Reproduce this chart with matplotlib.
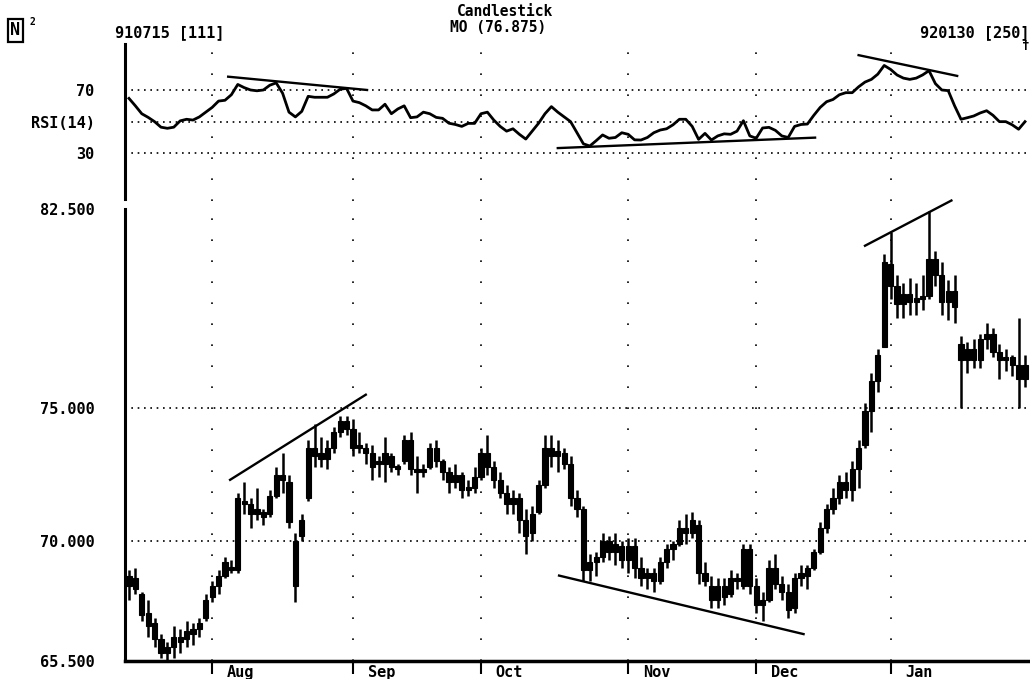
import numpy as np
import matplotlib.pyplot as plt
from matplotlib.transforms import blended_transform_factory

plt.rcParams['font.family'] = 'DejaVu Sans Mono'
plt.rcParams['font.weight'] = 'bold'

# --- daily bars, 910715 .. 920130 (bar index 0 = Jul 15) ---
opens = [68.3, 68.6, 68.0, 67.3, 66.9, 66.3, 65.8, 66.0, 66.4, 66.3, 66.5, 66.7, 67.1,
         67.9, 68.3, 68.7, 69.0, 68.9, 71.5, 71.4, 71.0, 71.1, 71.0, 71.7, 72.5, 72.2, 70.0, 70.2, 71.6, 73.5, 73.3, 73.1, 73.5, 74.1, 74.5,
         74.2, 73.6, 73.5, 73.3, 72.9, 72.9, 73.2, 72.8, 73.0, 73.8, 72.7, 72.6, 72.8, 73.5, 73.0, 72.6, 72.2, 72.5, 71.9, 72.0,
         72.4, 73.3, 72.8, 72.3, 71.8, 71.4, 71.6, 70.8, 70.3, 71.1, 72.1, 73.5, 73.2, 73.3, 72.9, 71.6, 71.2, 68.9, 69.2, 69.4, 70.0, 69.6, 69.8,
         69.3, 69.8, 69.0, 68.6, 68.8, 68.5, 69.2, 69.7, 69.9, 70.5, 70.3, 70.6, 68.8, 68.3, 67.8, 68.3, 68.0, 68.6, 68.3, 69.7,
         68.3, 67.6, 67.8, 69.0, 68.4, 68.1, 67.5, 68.6, 68.7, 69.0, 69.6, 70.5, 71.2, 71.6, 72.2, 71.9, 72.7, 73.6, 74.9, 76.0, 77.3,
         80.4, 79.6, 78.9, 79.3, 79.0, 79.1, 79.2, 80.6, 80.0, 79.0, 79.4, 77.4, 76.8, 77.2, 76.8, 77.6, 77.8, 77.1, 76.8, 76.9, 76.6, 76.1]
highs = [68.9, 69.0, 68.1, 67.8, 67.1, 66.5, 66.2, 66.8, 66.7, 67.0, 66.9, 67.1, 68.0,
         68.5, 68.9, 69.4, 69.3, 71.8, 72.2, 71.6, 72.0, 71.2, 71.9, 72.8, 73.3, 72.5, 70.3, 71.0, 73.8, 74.4, 73.9, 73.8, 74.3, 74.7, 74.7,
         74.6, 74.1, 73.7, 73.6, 73.2, 73.9, 73.3, 72.9, 74.0, 74.1, 73.2, 72.9, 73.7, 73.8, 73.1, 72.8, 72.9, 72.6, 72.3, 72.8,
         73.5, 74.0, 73.0, 72.6, 72.1, 71.9, 71.8, 71.2, 71.3, 72.3, 74.0, 74.0, 73.8, 73.5, 73.2, 71.9, 71.3, 69.5, 69.6, 70.3, 70.2, 70.3, 70.0,
         70.1, 70.1, 69.4, 69.0, 69.0, 69.4, 69.9, 70.0, 70.8, 71.0, 71.1, 70.8, 69.2, 68.7, 68.6, 68.6, 68.9, 68.8, 69.9, 69.9,
         68.6, 68.1, 69.3, 69.5, 68.7, 68.4, 68.8, 69.1, 69.1, 69.7, 70.7, 71.4, 72.0, 72.5, 72.6, 73.0, 73.8, 75.2, 76.3, 77.2, 80.8,
         81.6, 80.0, 79.7, 79.9, 79.7, 80.0, 82.4, 80.9, 80.5, 79.8, 80.0, 77.7, 77.5, 77.6, 77.8, 78.2, 78.0, 77.4, 77.2, 77.0, 78.4, 77.0]
lows = [67.8, 68.0, 67.0, 66.4, 66.0, 65.6, 65.5, 65.6, 65.8, 66.0, 66.1, 66.4, 67.0,
        67.7, 68.0, 68.6, 68.8, 68.8, 71.0, 70.5, 70.8, 70.6, 70.9, 71.6, 71.8, 70.5, 67.7, 70.0, 71.5, 72.8, 72.8, 72.7, 73.3, 73.9, 74.0,
        73.2, 73.3, 72.9, 72.3, 72.4, 72.2, 72.6, 72.5, 72.9, 72.5, 71.8, 72.4, 72.7, 72.8, 72.3, 71.8, 72.0, 71.6, 71.7, 71.8,
        72.3, 72.5, 72.0, 71.6, 71.0, 71.0, 70.3, 69.5, 70.0, 71.0, 72.0, 72.8, 72.6, 72.7, 71.3, 70.9, 68.5, 68.5, 68.7, 69.2, 69.3, 69.1, 69.0,
        68.8, 68.6, 68.3, 68.2, 68.1, 68.4, 69.0, 69.3, 69.8, 69.9, 70.1, 68.4, 68.3, 67.5, 67.5, 67.6, 67.9, 68.2, 68.2, 68.0,
        67.3, 67.0, 67.7, 68.2, 67.8, 67.1, 67.3, 68.3, 68.2, 68.9, 69.5, 70.3, 71.0, 71.4, 71.6, 71.5, 72.0, 73.5, 74.1, 75.6, 77.3,
        79.1, 78.4, 78.4, 78.5, 78.5, 78.7, 79.1, 79.6, 78.5, 78.3, 78.2, 75.0, 76.3, 76.5, 76.5, 77.2, 76.9, 76.1, 76.4, 76.2, 75.0, 75.8]
closes = [68.7, 68.2, 67.2, 66.8, 66.3, 65.8, 66.0, 66.4, 66.2, 66.6, 66.7, 66.9, 67.8,
          68.3, 68.7, 69.2, 68.9, 71.6, 71.4, 71.0, 71.2, 70.9, 71.7, 72.5, 72.3, 70.7, 68.3, 70.8, 73.5, 73.2, 73.1, 73.5, 74.1, 74.5, 74.2,
          73.5, 73.5, 73.3, 72.8, 72.9, 73.3, 72.8, 72.7, 73.8, 72.7, 72.6, 72.7, 73.5, 73.0, 72.6, 72.2, 72.5, 71.9, 72.0, 72.4,
          73.3, 72.8, 72.3, 71.8, 71.4, 71.6, 70.8, 70.2, 71.0, 72.1, 73.5, 73.2, 73.4, 72.9, 71.6, 71.2, 68.9, 69.2, 69.4, 70.0, 69.6, 69.9, 69.3,
          69.8, 69.0, 68.6, 68.8, 68.5, 69.2, 69.7, 69.9, 70.5, 70.3, 70.8, 68.8, 68.5, 67.8, 68.3, 67.9, 68.6, 68.5, 69.7, 68.3,
          67.6, 67.8, 69.0, 68.4, 68.1, 67.4, 68.6, 68.8, 69.0, 69.6, 70.5, 71.2, 71.6, 72.2, 71.9, 72.7, 73.5, 74.9, 76.0, 77.0, 80.5,
          79.6, 78.9, 79.3, 79.0, 79.1, 79.2, 80.6, 80.0, 79.0, 79.4, 78.8, 76.8, 77.2, 76.8, 77.6, 77.8, 77.1, 76.8, 76.9, 76.6, 76.1, 76.6]

# RSI(14), one value per bar
rsi = [64.7, 60.0, 55.0, 52.7, 50.0, 46.5, 45.8, 46.5, 50.5, 51.5, 51.0, 53.0, 56.0,
       59.0, 63.0, 63.5, 67.0, 73.5, 71.5, 70.0, 69.5, 70.0, 73.0, 74.5, 68.0, 56.0, 53.0, 56.5, 66.0, 65.4, 65.4, 65.4, 67.5, 70.5, 71.0,
       63.0, 62.0, 60.0, 57.4, 57.4, 61.0, 55.0, 58.0, 60.0, 52.5, 53.0, 56.0, 55.0, 52.7, 52.1, 49.0, 48.2, 47.0, 48.9, 48.9,
       55.0, 56.0, 51.0, 47.0, 44.0, 45.5, 42.0, 39.0, 44.0, 49.0, 55.0, 59.5, 56.0, 53.0, 50.0, 43.0, 36.0, 34.6, 38.0, 41.6, 39.5, 40.0, 43.0,
       42.0, 38.5, 38.4, 40.0, 43.0, 44.7, 45.5, 48.0, 51.5, 51.5, 47.0, 38.8, 42.6, 38.4, 41.0, 42.3, 42.0, 44.0, 50.6, 41.0,
       39.5, 46.0, 46.4, 44.5, 41.0, 40.0, 47.0, 48.2, 48.5, 54.0, 59.0, 62.6, 64.0, 67.0, 68.3, 68.3, 72.0, 75.0, 76.7, 80.0, 85.5,
       83.0, 79.5, 77.5, 76.7, 77.5, 79.5, 82.2, 74.0, 70.0, 69.6, 60.0, 51.5, 52.5, 53.6, 55.5, 56.9, 54.0, 50.0, 50.0, 48.0, 45.2, 50.0]

month_names = ['Aug', 'Sep', 'Oct', 'Nov', 'Dec', 'Jan']
month_starts = [13, 35, 55, 78, 98, 119]

price_ticks = [82.5, 75.0, 70.0, 65.5]
price_labels = ['82.500', '75.000', '70.000', '65.500']
price_grid = [75.0, 70.0]
rsi_ticks = [70, 50, 30]
rsi_labels = ['70', 'RSI(14)', '30']

# hand drawn trend lines: (bar, value) -> (bar, value)
rsi_trends = [((15.5, 78.4), (37.2, 70.0)),
              ((67.0, 33.3), (107.2, 39.9)),
              ((114.0, 92.0), (129.4, 78.9))]
price_trends = [((15.8, 72.3), (37.0, 75.5)),
                ((67.2, 68.7), (105.4, 66.5)),
                ((115.0, 81.1), (128.5, 82.8))]

W, H = 1030, 679
fig = plt.figure(figsize=(W / 100, H / 100), dpi=100)
x0 = 125 / W
ax_rsi = fig.add_axes([x0, 1 - 200.8 / H, 1 - x0, (200.8 - 42.5) / H])
ax = fig.add_axes([x0, 1 - 660.7 / H, 1 - x0, (660.7 - 208.5) / H])

xlim = (-0.62, 140.78)
vdots = (0, (1, 11.6))
hdots = (0, (1, 2.8))

# --- RSI panel ---
idx = np.arange(len(rsi))
ax_rsi.plot(idx, rsi, color='black', lw=2.0)
for (a, b) in rsi_trends:
    ax_rsi.plot([a[0], b[0]], [a[1], b[1]], color='black', lw=1.7, clip_on=False)
for v in rsi_ticks:
    ax_rsi.axhline(v, color='black', lw=1.2, ls=hdots)
for m in month_starts:
    ax_rsi.axvline(m, color='black', lw=1.2, ls=vdots)
ax_rsi.set_xlim(*xlim)
ax_rsi.set_ylim(0, 100)
ax_rsi.set_yticks(rsi_ticks, rsi_labels)
ax_rsi.set_xticks([])
ax_rsi.tick_params(axis='y', length=0, pad=22, labelsize=11)
for s in ['top', 'right', 'bottom']:
    ax_rsi.spines[s].set_visible(False)
ax_rsi.spines['left'].set_linewidth(2.2)
ax_rsi.spines['left'].set_bounds(1, 99)

# --- candlestick panel ---
x = np.arange(len(closes))
o = np.array(opens)
c = np.array(closes)
ax.vlines(x, lows, highs, color='black', lw=1.8)
body_lo = np.minimum(o, c)
body_h = np.maximum(np.abs(c - o), 0.12)
ax.bar(x, body_h, bottom=body_lo, width=0.8, color='black', edgecolor='black', lw=0.8)
for (a, b) in price_trends:
    ax.plot([a[0], b[0]], [a[1], b[1]], color='black', lw=1.7, clip_on=False)
for v in price_grid:
    ax.axhline(v, color='black', lw=1.2, ls=hdots)
for m in month_starts:
    ax.axvline(m, color='black', lw=1.2, ls=vdots)
ax.set_xlim(*xlim)
ax.set_ylim(65.5, 82.5)
ax.set_yticks(price_ticks, price_labels)
ax.tick_params(axis='y', length=0, pad=22, labelsize=11)
ax.set_xticks(month_starts, [''] * len(month_starts))
ax.tick_params(axis='x', length=9, width=1.5, direction='out')
for s in ['top', 'right']:
    ax.spines[s].set_visible(False)
ax.spines['left'].set_linewidth(2.2)
ax.spines['bottom'].set_linewidth(2.5)

tr = blended_transform_factory(ax.transData, ax.transAxes)
for m, name in zip(month_starts, month_names):
    ax.text(m + 2.3, -0.026, name, transform=tr, ha='left', va='center', fontsize=11)

# --- header ---
fig.text(10 / W, 1 - 30 / H, 'N', fontsize=12, va='center', ha='left',
         bbox=dict(boxstyle='square,pad=0.15', fc='white', ec='black', lw=1.6))
fig.text(30 / W, 1 - 22 / H, '2', fontsize=7, va='center', ha='left')
fig.text(115 / W, 1 - 33 / H, '910715 [111]', fontsize=11, va='center', ha='left')
fig.text(505 / W, 1 - 12 / H, 'Candlestick', fontsize=10.5, va='center', ha='center')
fig.text(498 / W, 1 - 28 / H, 'MO (76.875)', fontsize=10.5, va='center', ha='center')
fig.text(1030 / W, 1 - 33 / H, '920130 [250]', fontsize=11, va='center', ha='right')
fig.text(1022 / W, 1 - 46 / H, '†', fontsize=9, va='center', ha='left')

fig.savefig('out.png', dpi=100)
